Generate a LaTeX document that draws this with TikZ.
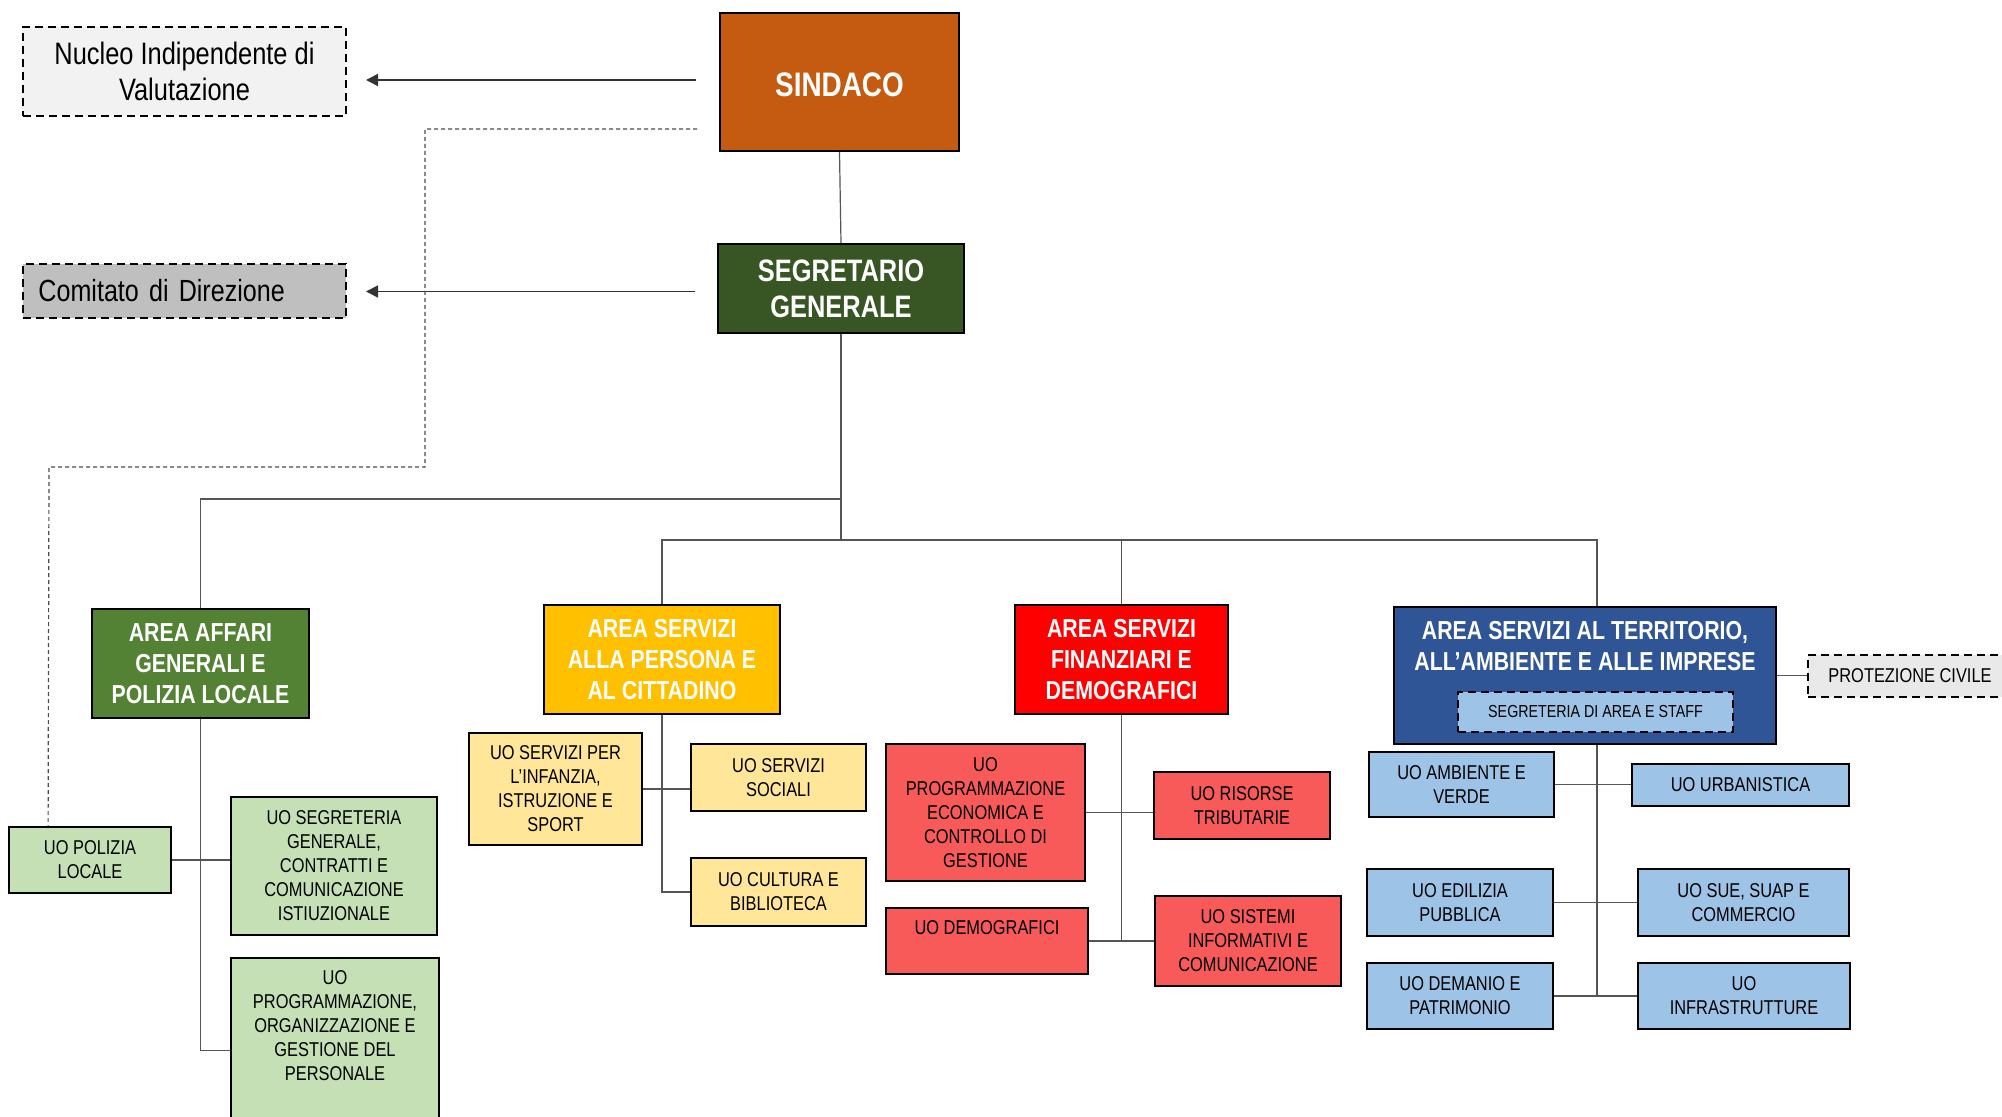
\documentclass[tikz,border=0pt]{standalone}
\usepackage{fontspec}
\setmainfont{Liberation Sans}[FakeStretch=0.82]
\usetikzlibrary{arrows.meta,calc}
\definecolor{csind}{HTML}{C55A11}
\definecolor{csegr}{HTML}{375623}
\definecolor{caff}{HTML}{548235}
\definecolor{cgreen}{HTML}{C5E0B4}
\definecolor{cpers}{HTML}{FFC000}
\definecolor{cyel}{HTML}{FFE699}
\definecolor{cfin}{HTML}{FF0000}
\definecolor{cred}{HTML}{F85A5A}
\definecolor{cterr}{HTML}{2F5597}
\definecolor{cblue}{HTML}{9DC3E6}
\definecolor{cnuc}{HTML}{F2F2F2}
\definecolor{ccom}{HTML}{BFBFBF}
\definecolor{cprot}{HTML}{E9E9E9}
\definecolor{linegray}{HTML}{555555}
\tikzset{
 box/.style={draw=black, line width=0.9pt, align=center, inner sep=1pt},
 hdr/.style={box, text=white, font=\bfseries\fontsize{13}{15.5}\selectfont},
 uo/.style={box, font=\fontsize{10}{12}\selectfont},
 dbox/.style={box, dash pattern=on 4pt off 2.5pt, line width=1pt},
 conn/.style={draw=linegray, line width=0.6pt},
 arr/.style={draw=black!80, line width=0.8pt, -{Triangle[length=6pt,width=6pt]}},
 dotl/.style={draw=black!70, line width=0.6pt, dash pattern=on 2pt off 1.5pt}
}
\begin{document}
\begin{tikzpicture}[x=0.5pt,y=-0.5pt]
\useasboundingbox (0,0) rectangle (2002,1117);
\clip (0,0) rectangle (2002,1117);
\fill[white] (0,0) rectangle (2002,1117);

% top
\node[dbox, fill=cnuc, minimum width=161.5pt, minimum height=44.5pt, font=\fontsize{15.5}{18}\selectfont] (nuc) at (184.5,71.5) {Nucleo Indipendente di\\Valutazione};
\node[dbox, fill=ccom, minimum width=161.5pt, minimum height=27pt, font=\fontsize{15.3}{18}\selectfont, text width=146pt, align=left] (com) at (184.5,291) {Comitato di Direzione};
\node[box, fill=csind, minimum width=119.5pt, minimum height=69pt, text=white, font=\bfseries\fontsize{17}{20}\selectfont, text height=15pt] (sind) at (839.5,82) {SINDACO};
\node[box, fill=csegr, minimum width=123pt, minimum height=44.5pt, text=white, font=\bfseries\fontsize{15.5}{18}\selectfont] (segr) at (841,288.5) {SEGRETARIO\\GENERALE};

% areas
\node[hdr, fill=caff, minimum width=108.5pt, minimum height=54.5pt] (aff) at (200.5,663.5) {AREA AFFARI\\GENERALI E\\POLIZIA LOCALE};
\node[hdr, fill=cpers, minimum width=118pt, minimum height=54.5pt] (pers) at (662,659.5) {AREA SERVIZI\\ALLA PERSONA E\\AL CITTADINO};
\node[hdr, fill=cfin, minimum width=106.5pt, minimum height=54.5pt] (fin) at (1121.5,659.5) {AREA SERVIZI\\FINANZIARI E\\DEMOGRAFICI};
\node[box, fill=cterr, minimum width=191pt, minimum height=68.5pt] (terr) at (1585,675.5) {};
\node[text=white, font=\bfseries\fontsize{13}{15.5}\selectfont, align=center] (terrt) at (1585,646) {AREA SERVIZI AL TERRITORIO,\\ALL’AMBIENTE E ALLE IMPRESE};
\node[dbox, fill=cblue, minimum width=137.5pt, minimum height=20pt, font=\fontsize{8.7}{10}\selectfont] (staff) at (1595.5,712) {SEGRETERIA DI AREA E STAFF};
\node[dbox, fill=cprot, minimum width=102pt, minimum height=21pt, font=\fontsize{10}{12}\selectfont] (prot) at (1910,676) {PROTEZIONE CIVILE};

% green
\node[uo, fill=cgreen, minimum width=81pt, minimum height=33pt] (pol) at (90,860) {UO POLIZIA\\LOCALE};
\node[uo, fill=cgreen, minimum width=103pt, minimum height=69pt] (gseg) at (334,866) {UO SEGRETERIA\\GENERALE,\\CONTRATTI E\\COMUNICAZIONE\\ISTIUZIONALE};
\node[uo, fill=cgreen, minimum width=104pt, minimum height=90pt] (gprog) at (335,1048) {};
\node[font=\fontsize{10}{12}\selectfont, align=center] (gprogt) at (335,1026) {UO\\PROGRAMMAZIONE,\\ORGANIZZAZIONE E\\GESTIONE DEL\\PERSONALE};

% yellow
\node[uo, fill=cyel, minimum width=86.5pt, minimum height=56pt] (inf) at (555.5,789) {UO SERVIZI PER\\L’INFANZIA,\\ISTRUZIONE E\\SPORT};
\node[uo, fill=cyel, minimum width=87.5pt, minimum height=33.5pt] (soc) at (778.5,777.5) {UO SERVIZI\\SOCIALI};
\node[uo, fill=cyel, minimum width=87.5pt, minimum height=34pt] (cult) at (778.5,892) {UO CULTURA E\\BIBLIOTECA};

% red
\node[uo, fill=cred, minimum width=99.5pt, minimum height=68.5pt] (pec) at (985.5,812.5) {UO\\PROGRAMMAZIONE\\ECONOMICA E\\CONTROLLO DI\\GESTIONE};
\node[uo, fill=cred, minimum width=88pt, minimum height=33.5pt] (ris) at (1242,805.5) {UO RISORSE\\TRIBUTARIE};
\node[uo, fill=cred, minimum width=101pt, minimum height=33pt, text depth=13pt] (dem) at (987,941) {UO DEMOGRAFICI};
\node[uo, fill=cred, minimum width=93pt, minimum height=45pt] (sis) at (1248,941) {UO SISTEMI\\INFORMATIVI E\\COMUNICAZIONE};

% blue
\node[uo, fill=cblue, minimum width=92.5pt, minimum height=32.5pt] (amb) at (1461.5,784.5) {UO AMBIENTE E\\VERDE};
\node[uo, fill=cblue, minimum width=108.5pt, minimum height=21pt] (urb) at (1740.5,785) {UO URBANISTICA};
\node[uo, fill=cblue, minimum width=93pt, minimum height=33.5pt] (edi) at (1460,902.5) {UO EDILIZIA\\PUBBLICA};
\node[uo, fill=cblue, minimum width=105.5pt, minimum height=33.5pt] (sue) at (1743.5,902.5) {UO SUE, SUAP E\\COMMERCIO};
\node[uo, fill=cblue, minimum width=93pt, minimum height=33pt] (dema) at (1460,996) {UO DEMANIO E\\PATRIMONIO};
\node[uo, fill=cblue, minimum width=106pt, minimum height=33pt] (infr) at (1744,996) {UO\\INFRASTRUTTURE};

% junctions
\coordinate (tj) at (1597,540);
\coordinate (lj) at (841,499);
\coordinate (d1) at (697,129);

% trunk
\draw[conn] (sind.south) -- (segr.north);
\draw[conn] (segr.south) -- (segr.south |- tj);
\draw[conn] (lj) -| (aff.north);
\draw[conn] (pers.north) |- (tj) -- (tj |- terr.north);
\draw[conn] (fin.north) -- (fin.north |- tj);

% arrows
\draw[arr] ($(sind.west)+(-23,-2)$) -- ($(sind.west -| nuc.east)+(19,-2)$);
\draw[arr] ($(segr.west)+(-22,3)$) -- ($(segr.west -| com.east)+(19,3)$);
\draw[dotl] (d1) -- (425,129) -- (425,467) -- (49,467) -- ($(pol.north west)+(40,0)$);

% green connectors
\draw[conn] (aff.south) |- ($(gprog.north west)+(0,93)$);
\draw[conn] (pol.east) -- (pol.east -| gseg.west);

% yellow
\draw[conn] (pers.south) |- (cult.west);
\draw[conn] (inf.east) -- (inf.east -| soc.west);

% red
\draw[conn] (fin.south) |- (sis.west);
\draw[conn] (dem.east) -- (sis.west);
\draw[conn] (pec.east) -- (pec.east -| ris.west);

% blue
\draw[conn] (terr.south -| tj) -- (tj |- infr.west);
\draw[conn] (amb.east) -- (amb.east -| urb.west);
\draw[conn] (edi.east) -- (sue.west);
\draw[conn] (dema.east) -- (infr.west);
\draw[conn] (terr.east) -- (terr.east -| prot.west);
\end{tikzpicture}
\end{document}
